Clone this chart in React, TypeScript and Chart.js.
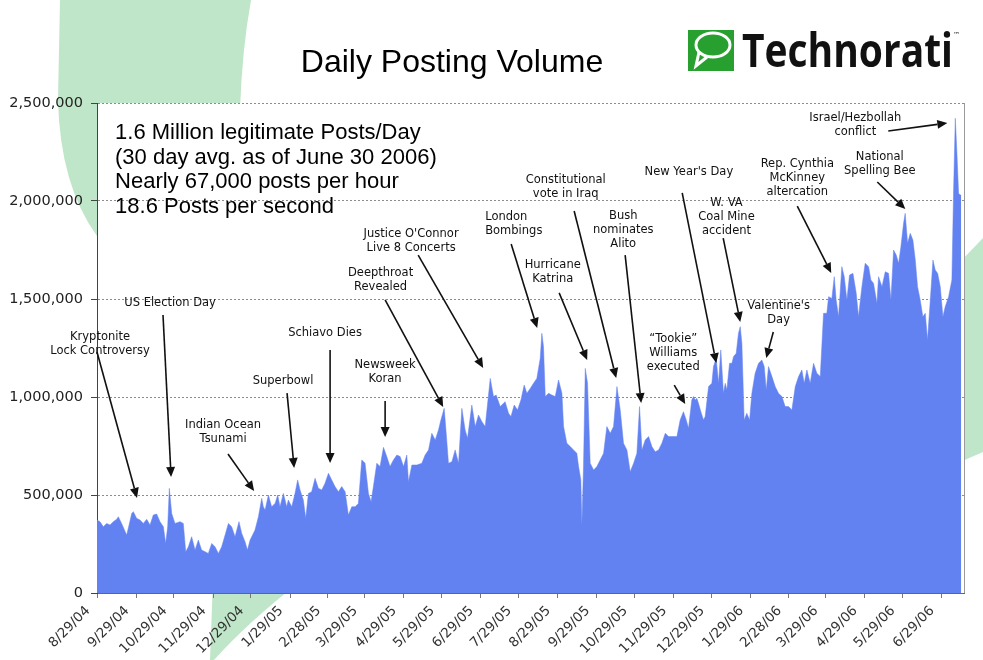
import React, { useEffect, useRef } from 'react';
import { Chart, registerables } from 'chart.js';

Chart.register(...registerables);

// ---------- data ----------
const tickLabels = [
  '8/29/04', '9/29/04', '10/29/04', '11/29/04', '12/29/04', '1/29/05', '2/28/05',
  '3/29/05', '4/29/05', '5/29/05', '6/29/05', '7/29/05', '8/29/05', '9/29/05',
  '10/29/05', '11/29/05', '12/29/05', '1/29/06', '2/28/06', '3/29/06', '4/29/06',
  '5/29/06', '6/29/06',
];
const axisEndDay = 687; // days after 8/29/04 shown on the axis

// days after 8/29/04
const dayOffsets = [
  0, 2.4, 5.0, 7.7, 10.3, 12.9, 15.6, 16.9, 19.5, 23.5, 24.8, 27.5, 28.8, 31.4, 34.1, 36.7, 39.4, 42.0, 44.6, 47.3,
  49.9, 52.6, 54.4, 56.0, 57.3, 59.2, 61.8, 65.8, 68.4, 70.3, 72.4, 75.0, 77.7, 80.3, 82.9, 85.6, 88.2, 90.9, 93.5, 96.2,
  98.8, 101.5, 104.1, 106.7, 109.4, 112.5, 114.7, 117.3, 119.2, 121.3, 125.2, 127.9, 130.5, 131.8, 133.2, 135.8, 138.4, 141.1, 143.2, 145.0,
  147.7, 150.3, 151.6, 154.3, 156.9, 159.0, 160.9, 163.5, 165.4, 167.5, 170.1, 172.8, 175.4, 178.1, 180.7, 183.4, 186.0, 188.6, 191.3, 193.9,
  196.6, 199.2, 201.9, 204.5, 207.1, 209.8, 212.4, 215.1, 217.2, 219.0, 221.7, 224.3, 227.0, 229.6, 232.2, 234.9,
  237.6, 240.2, 242.9, 245.5, 246.8, 249.5, 253.4, 257.4, 260.0, 262.7, 265.3, 268.0, 270.6, 272.5, 275.1, 276.7, 278.5, 281.2, 283.8, 286.5,
  289.1, 291.7, 293.6, 297.0, 299.7, 302.3, 305.0, 307.6, 311.6, 314.2, 316.3, 319.5, 323.4, 326.1, 328.0, 330.6, 333.2, 335.9, 338.5, 340.6,
  343.3, 345.9, 348.5, 351.2, 352.5, 353.8, 355.2, 357.8, 360.4, 363.1, 365.7, 368.4, 369.7, 372.3, 375.0, 377.6, 380.2, 381.6, 383.4, 384.2,
  385.5, 386.9, 388.7, 390.8, 393.5, 396.1, 398.7, 401.4, 404.0, 406.7, 409.3, 412.0, 414.6, 417.2, 419.9, 422.5, 425.2, 427.8, 429.9, 431.8,
  434.4, 437.1, 439.7, 442.3, 445.0, 447.6, 450.3, 452.9, 455.5, 459.5,
  462.1, 464.7, 466.9, 468.7, 471.3, 472.7, 474.0, 475.3, 476.6, 478.5, 480.6, 481.9, 484.6, 487.2, 488.5, 490.6, 492.5, 494.3, 496.4, 497.8,
  499.1, 501.2, 503.1, 504.4, 506.5, 508.3, 509.7, 511.0, 512.8, 514.9, 517.1, 518.9, 521.5, 524.2, 526.8, 528.7, 530.3, 532.1, 534.8, 537.4,
  540.0, 542.7, 545.3, 548.0, 550.6, 553.3, 555.9, 558.5, 560.4, 562.5, 565.1, 567.8, 570.4, 573.1, 575.7, 578.3, 579.7, 582.3, 584.2, 585.7,
  587.6, 590.2, 592.1, 594.2, 596.3, 599.0, 601.6, 603.4, 606.1, 608.7, 611.4, 613.2, 615.3, 618.0, 619.3, 622.0, 624.6, 627.2, 629.1, 631.2,
  633.3, 635.2, 637.0, 639.1, 640.4, 642.3, 644.4, 646.5, 648.4, 650.2, 652.3, 654.4, 656.3, 658.1, 660.3, 662.4, 664.2, 666.1, 668.2, 670.3,
  672.1, 674.8, 677.4, 678.7, 680.1, 681.4, 682.7, 684.0, 684.8,
];

const dailyPosts = [
  372000, 364000, 338000, 355000, 347000, 364000, 376000, 389000, 355000, 296000, 330000, 406000, 415000, 381000, 372000, 355000, 376000, 347000, 398000, 403000,
  364000, 338000, 253000, 338000, 534000, 406000, 355000, 364000, 355000, 211000, 236000, 287000, 219000, 270000, 219000, 211000, 202000, 253000, 236000, 202000,
  236000, 296000, 355000, 338000, 287000, 364000, 304000, 262000, 219000, 270000, 321000, 389000, 483000, 440000, 423000, 500000, 440000, 457000, 500000, 440000,
  508000, 440000, 474000, 440000, 508000, 577000, 526000, 474000, 381000, 508000, 517000, 585000, 534000, 526000, 560000, 611000, 577000, 543000, 517000, 543000,
  517000, 398000, 440000, 440000, 457000, 679000, 662000, 508000, 466000, 543000, 662000, 645000, 743000, 696000, 645000, 679000,
  704000, 696000, 645000, 704000, 568000, 653000, 653000, 662000, 704000, 730000, 815000, 781000, 832000, 883000, 942000, 815000, 662000, 670000, 730000, 662000,
  942000, 832000, 789000, 959000, 849000, 908000, 874000, 849000, 1095000, 1002000, 1010000, 951000, 976000, 917000, 900000, 959000, 934000, 985000, 1061000, 1019000,
  1044000, 1070000, 1095000, 1197000, 1325000, 1257000, 1002000, 1019000, 1010000, 1002000, 1087000, 1019000, 849000, 764000, 747000, 730000, 713000, 645000, 577000, 347000,
  645000, 1146000, 1070000, 662000, 628000, 645000, 679000, 713000, 849000, 815000, 849000, 1053000, 934000, 764000, 730000, 619000, 662000, 713000, 951000, 730000,
  781000, 798000, 747000, 721000, 730000, 764000, 815000, 798000, 798000, 798000,
  883000, 925000, 883000, 840000, 985000, 1002000, 985000, 993000, 968000, 925000, 883000, 900000, 1053000, 1070000, 1155000, 1197000, 1070000, 1240000, 1019000, 1070000,
  1036000, 1172000, 1172000, 1206000, 1223000, 1325000, 1359000, 1274000, 883000, 917000, 883000, 1019000, 1121000, 1172000, 1189000, 1155000, 1036000, 1155000, 1104000, 1053000,
  1019000, 1002000, 951000, 951000, 934000, 1053000, 1104000, 1138000, 1070000, 1138000, 1070000, 1172000, 1121000, 1104000, 1427000, 1427000, 1512000, 1503000, 1614000, 1495000,
  1410000, 1665000, 1614000, 1495000, 1622000, 1631000, 1529000, 1410000, 1563000, 1682000, 1665000, 1597000, 1580000, 1478000, 1614000, 1563000, 1639000, 1631000, 1495000, 1750000,
  1724000, 1682000, 1767000, 1886000, 1937000, 1784000, 1835000, 1801000, 1699000, 1563000, 1495000, 1410000, 1427000, 1291000, 1495000, 1699000, 1648000, 1631000, 1563000, 1410000,
  1461000, 1512000, 1597000, 2039000, 2422000, 2243000, 2039000, 2031000, 2031000,
];

const summaryLines = [
  '1.6 Million legitimate Posts/Day',
  '(30 day avg. as of June 30 2006)',
  'Nearly 67,000 posts per hour',
  '18.6 Posts per second',
];

// event notes: text anchor, arrow tail and arrow head, in (day, posts) space
type Note = { lines: string[]; at: [number, number]; from: [number, number]; to: [number, number]; align?: CanvasTextAlign };
const notes: Note[] = [
  { lines: ['Kryptonite', 'Lock Controversy'], at: [2.4, 1306000], from: [0, 1230000], to: [31.7, 485000] },
  { lines: ['US Election Day'], at: [57.9, 1480000], from: [52.3, 1418000], to: [58.7, 592000] },
  { lines: ['Indian Ocean', 'Tsunami'], at: [99.9, 857000], from: [103.8, 709000], to: [124.5, 520000] },
  { lines: ['Superbowl'], at: [147.4, 1082000], from: [150.6, 1020000], to: [156.2, 638000] },
  { lines: ['Schiavo Dies'], at: [180.7, 1327000], from: [184.7, 1240000], to: [184.7, 663000] },
  { lines: ['Newsweek', 'Koran'], at: [228.3, 1163000], from: [228.3, 980000], to: [228.3, 796000] },
  { lines: ['Deepthroat', 'Revealed'], at: [224.7, 1633000], from: [228.3, 1495000], to: [274.3, 949000] },
  { lines: ["Justice O'Connor", 'Live 8 Concerts'], at: [248.9, 1832000], from: [254.5, 1724000], to: [306.0, 1148000] },
  { lines: ['London', 'Bombings'], at: [307.6, 1918000], from: [328.2, 1781000], to: [348.8, 1352000], align: 'left' },
  { lines: ['Hurricane', 'Katrina'], at: [361.1, 1673000], from: [366.2, 1531000], to: [388.4, 1189000] },
  { lines: ['Constitutional', 'vote in Iraq'], at: [371.4, 2107000], from: [378.1, 1949000], to: [411.4, 1097000] },
  { lines: ['Bush', 'nominates', 'Alito'], at: [417.0, 1923000], from: [418.5, 1724000], to: [431.2, 969000] },
  { lines: ['\u201CTookie\u201D', 'Williams', 'executed'], at: [456.6, 1296000], from: [457.4, 1061000], to: [466.1, 964000] },
  { lines: ["New Year's Day"], at: [469.0, 2148000], from: [463.7, 2041000], to: [490.7, 1173000] },
  { lines: ['W. VA', 'Coal Mine', 'accident'], at: [498.8, 1990000], from: [496.2, 1811000], to: [509.7, 1383000] },
  { lines: ["Valentine's", 'Day'], at: [540.1, 1464000], from: [535.9, 1332000], to: [530.3, 1199000] },
  { lines: ['Rep. Cynthia', 'McKinney', 'altercation'], at: [554.9, 2189000], from: [554.9, 1974000], to: [581.8, 1633000] },
  { lines: ['National', 'Spelling Bee'], at: [620.3, 2224000], from: [618.3, 2097000], to: [640.5, 1959000] },
  { lines: ['Israel/Hezbollah', 'conflict'], at: [600.9, 2423000], from: [627.0, 2357000], to: [673.8, 2398000] },
];

const summaryAt: [number, number] = [14.3, 2316000];

function dayOf(label: string): number {
  const [m, d, y] = label.split('/').map(Number);
  return Math.round((Date.UTC(2000 + y, m - 1, d) - Date.UTC(2004, 7, 29)) / 86400000);
}
const tickDays = tickLabels.map(dayOf);

// ---------- drawing helpers ----------
const GREEN_BG = '#bfe6c8';

function drawArrow(ctx: CanvasRenderingContext2D, x1: number, y1: number, x2: number, y2: number) {
  const ang = Math.atan2(y2 - y1, x2 - x1);
  const head = 10;
  const half = 4.5;
  const bx = x2 - Math.cos(ang) * head;
  const by = y2 - Math.sin(ang) * head;
  ctx.beginPath();
  ctx.moveTo(x1, y1);
  ctx.lineTo(bx, by);
  ctx.lineWidth = 1.6;
  ctx.strokeStyle = '#111';
  ctx.stroke();
  ctx.beginPath();
  ctx.moveTo(x2, y2);
  ctx.lineTo(bx + Math.sin(ang) * half, by - Math.cos(ang) * half);
  ctx.lineTo(bx - Math.sin(ang) * half, by + Math.cos(ang) * half);
  ctx.closePath();
  ctx.fillStyle = '#111';
  ctx.fill();
}

const decorPlugin = {
  id: 'decor',
  beforeDraw(chart: any) {
    const { ctx, chartArea: a, width, height } = chart;
    ctx.save();
    ctx.fillStyle = '#ffffff';
    ctx.fillRect(0, 0, width, height);
    ctx.fillStyle = GREEN_BG;
    // top-left band
    ctx.beginPath();
    ctx.moveTo(60, 0);
    ctx.lineTo(251, 0);
    ctx.quadraticCurveTo(242, 50, 240, 110);
    ctx.lineTo(240, 250);
    ctx.lineTo(97, 250);
    ctx.lineTo(97, 236);
    ctx.quadraticCurveTo(60, 185, 58, 100);
    ctx.closePath();
    ctx.fill();
    // bottom band
    ctx.beginPath();
    ctx.moveTo(213, 580);
    ctx.lineTo(302, 580);
    ctx.quadraticCurveTo(248, 622, 214, 660);
    ctx.lineTo(210, 660);
    ctx.closePath();
    ctx.fill();
    // right band
    ctx.beginPath();
    ctx.moveTo(960, 262);
    ctx.lineTo(983, 238);
    ctx.lineTo(983, 452);
    ctx.lineTo(960, 462);
    ctx.closePath();
    ctx.fill();
    // plot area
    ctx.fillStyle = '#ffffff';
    ctx.fillRect(a.left, a.top, a.right - a.left, a.bottom - a.top);
    ctx.restore();
  },
  afterDraw(chart: any) {
    const { ctx, chartArea: a } = chart;
    const xs = chart.scales.x;
    const ys = chart.scales.y;
    ctx.save();
    // right frame line
    ctx.strokeStyle = '#9a9a9a';
    ctx.lineWidth = 1;
    ctx.beginPath();
    ctx.moveTo(a.right + 0.5, a.top);
    ctx.lineTo(a.right + 0.5, a.bottom);
    ctx.stroke();

    // title
    ctx.fillStyle = '#000';
    ctx.textAlign = 'center';
    ctx.textBaseline = 'alphabetic';
    ctx.font = '32px "Liberation Sans", Arial, sans-serif';
    ctx.fillText('Daily Posting Volume', 452, 72);

    // logo
    ctx.fillStyle = '#27a02f';
    ctx.fillRect(688, 30, 46, 41);
    ctx.strokeStyle = '#ffffff';
    ctx.lineWidth = 3;
    ctx.beginPath();
    ctx.ellipse(713, 45, 17, 12, 0, 0, Math.PI * 2);
    ctx.stroke();
    ctx.beginPath();
    ctx.moveTo(699, 52);
    ctx.lineTo(696, 66);
    ctx.lineTo(707, 57);
    ctx.stroke();
    ctx.fillStyle = '#111';
    ctx.textAlign = 'left';
    ctx.font = 'bold 47px "Open Sans", "Liberation Sans", sans-serif';
    ctx.fillText('Technorati', 742, 67, 211);
    ctx.font = '7px "DejaVu Sans", sans-serif';
    ctx.fillText('\u2122', 953, 37);

    // summary text block
    ctx.font = '22px "Liberation Sans", Arial, sans-serif';
    ctx.fillStyle = '#000';
    ctx.textAlign = 'left';
    const sx = xs.getPixelForValue(summaryAt[0]);
    const sy = ys.getPixelForValue(summaryAt[1]);
    summaryLines.forEach((t, i) => ctx.fillText(t, sx, sy + i * 24.5));

    // event notes
    ctx.font = '11.5px "DejaVu Sans", Verdana, sans-serif';
    ctx.textBaseline = 'middle';
    notes.forEach((n) => {
      drawArrow(
        ctx,
        xs.getPixelForValue(n.from[0]), ys.getPixelForValue(n.from[1]),
        xs.getPixelForValue(n.to[0]), ys.getPixelForValue(n.to[1]),
      );
      ctx.fillStyle = '#111';
      ctx.textAlign = n.align || 'center';
      const tx = xs.getPixelForValue(n.at[0]);
      const ty = ys.getPixelForValue(n.at[1]);
      n.lines.forEach((t, i) => ctx.fillText(t, tx, ty + i * 14));
    });
    ctx.restore();
  },
};

export default function App() {
  const ref = useRef<HTMLCanvasElement | null>(null);
  useEffect(() => {
    if (!ref.current) return;
    const points = dayOffsets.map((d, i) => ({ x: d, y: dailyPosts[i] }));
    const chart = new Chart(ref.current, {
      type: 'line',
      data: {
        datasets: [
          {
            data: points,
            fill: 'origin',
            backgroundColor: '#6382f2',
            borderColor: '#6382f2',
            borderWidth: 0.5,
            pointRadius: 0,
            tension: 0,
          },
        ],
      },
      options: {
        animation: false,
        responsive: false,
        devicePixelRatio: 1,
        layout: { padding: { left: 0, right: 19, top: 103, bottom: 0 } },
        plugins: { legend: { display: false }, tooltip: { enabled: false }, title: { display: false } },
        scales: {
          x: {
            type: 'linear',
            min: 0,
            max: axisEndDay,
            afterBuildTicks: (scale: any) => {
              scale.ticks = tickDays.map((v) => ({ value: v }));
            },
            afterFit: (scale: any) => {
              scale.height = 67;
            },
            ticks: {
              autoSkip: false,
              minRotation: 45,
              maxRotation: 45,
              padding: 5,
              labelOffset: -9,
              color: '#333',
              font: { family: '"DejaVu Sans", Verdana, sans-serif', size: 13.5 },
              callback: (v: any) => {
                const i = tickDays.indexOf(Number(v));
                return i >= 0 ? tickLabels[i] : '';
              },
            },
            grid: { drawOnChartArea: false, drawTicks: true, tickLength: 5, color: '#777' },
            border: { color: '#666', width: 1 },
          },
          y: {
            min: 0,
            max: 2500000,
            afterFit: (scale: any) => {
              scale.width = 97;
            },
            ticks: {
              stepSize: 500000,
              padding: 8,
              color: '#222',
              font: { family: '"DejaVu Sans", Verdana, sans-serif', size: 14.5 },
              callback: (v: any) => Number(v).toLocaleString('en-US'),
            },
            grid: { color: '#8c8c8c', lineWidth: 1, tickLength: 6, tickColor: '#444' },
            border: { color: '#444', width: 1, dash: [2, 2] },
          },
        },
      },
      plugins: [decorPlugin],
    });
    return () => chart.destroy();
  }, []);
  return (
    <div style={{ position: 'absolute', left: 0, top: 0, width: 983, height: 660, background: '#fff' }}>
      <canvas ref={ref} width={983} height={660} style={{ display: 'block', width: 983, height: 660 }} />
    </div>
  );
}
